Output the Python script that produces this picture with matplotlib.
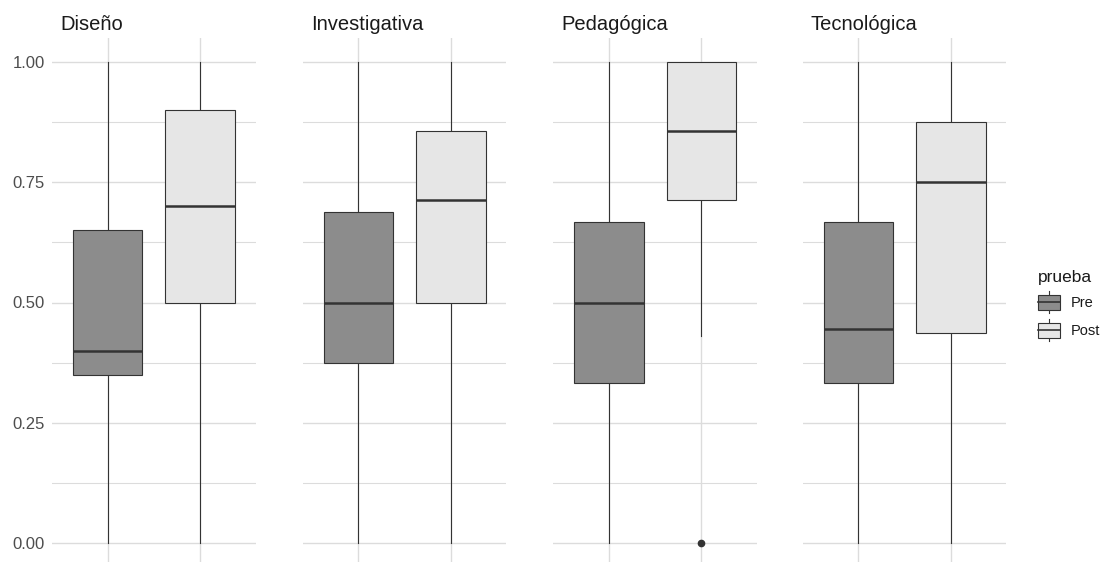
import matplotlib
matplotlib.use("Agg")
import matplotlib.pyplot as plt
from matplotlib.patches import Rectangle
from matplotlib.lines import Line2D
from matplotlib.legend_handler import HandlerBase

plt.rcParams['font.family'] = ['Liberation Sans', 'DejaVu Sans']

# ---- data ----
facets = ["Diseño", "Investigativa", "Pedagógica", "Tecnológica"]
groups = ["Pre", "Post"]
# per facet: [Pre, Post]
whislo = [[0.0, 0.0], [0.0, 0.0], [0.0, 0.43], [0.0, 0.0]]
q1 = [[0.35, 0.50], [0.375, 0.50], [0.333, 0.714], [0.333, 0.4375]]
med = [[0.40, 0.70], [0.50, 0.714], [0.50, 0.857], [0.444, 0.75]]
q3 = [[0.65, 0.90], [0.688, 0.857], [0.667, 1.00], [0.667, 0.875]]
whishi = [[1.0, 1.0], [1.0, 1.0], [1.0, 1.0], [1.0, 1.0]]
fliers = [[[], []], [[], []], [[], [0.0]], [[], []]]
yticks = [0.0, 0.25, 0.5, 0.75, 1.0]
ytick_labels = ["0.00", "0.25", "0.50", "0.75", "1.00"]

fill_colors = {"Pre": "#8c8c8c", "Post": "#e6e6e6"}
edge = "#333333"
grid_c = "#dcdcdc"

W, H = 1105, 562
fig = plt.figure(figsize=(W / 100, H / 100), dpi=100)

panel_lefts = [52, 302.7, 553.3, 802.7]
panel_w = 203.7
top_px, bot_px = 38, 567

for i, name in enumerate(facets):
    ax = fig.add_axes([panel_lefts[i] / W, (H - bot_px) / H,
                       panel_w / W, (bot_px - top_px) / H])
    stats = []
    for j, g in enumerate(groups):
        stats.append(dict(whislo=whislo[i][j], q1=q1[i][j], med=med[i][j],
                          q3=q3[i][j], whishi=whishi[i][j],
                          fliers=fliers[i][j], label=g))
    bp = ax.bxp(stats, positions=[1, 2], widths=0.75, patch_artist=True,
                showcaps=False,
                boxprops=dict(edgecolor=edge, linewidth=0.8),
                whiskerprops=dict(color=edge, linewidth=0.8),
                medianprops=dict(color=edge, linewidth=1.8, solid_capstyle='butt'),
                flierprops=dict(marker='o', markerfacecolor=edge,
                                markeredgecolor=edge, markersize=4.5))
    for patch, g in zip(bp['boxes'], groups):
        patch.set_facecolor(fill_colors[g])
    for w in bp['whiskers']:
        w.set_zorder(1.5)
    ax.set_xlim(0.4, 2.6)
    ax.set_ylim(-0.05, 1.05)
    ax.set_yticks(yticks)
    ax.set_yticks([0.125, 0.375, 0.625, 0.875], minor=True)
    ax.set_xticks([1, 2])
    ax.set_xticklabels([])
    ax.tick_params(axis='both', which='both', length=0)
    if i == 0:
        ax.set_yticklabels(ytick_labels, fontsize=12, color="#4d4d4d")
        ax.tick_params(axis='y', pad=5)
    else:
        ax.set_yticklabels([])
    ax.grid(True, which='major', color=grid_c, linewidth=1.0)
    ax.grid(True, which='minor', axis='y', color=grid_c, linewidth=0.8)
    ax.set_axisbelow(True)
    for s in ax.spines.values():
        s.set_visible(False)
    ax.text(8 / panel_w, 1.0 + (38 - 30) / (bot_px - top_px), name,
            transform=ax.transAxes, ha='left', va='baseline',
            fontsize=14.5, color="#1a1a1a")


class BoxKeyHandler(HandlerBase):
    def __init__(self, face):
        super().__init__()
        self.face = face

    def create_artists(self, legend, orig_handle, xdescent, ydescent,
                       width, height, fontsize, trans):
        x0, y0 = -xdescent, -ydescent
        cx = x0 + width / 2
        bw = width
        bh = height * 0.7
        by = y0 + (height - bh) / 2
        rect = Rectangle((cx - bw / 2, by), bw, bh, facecolor=self.face,
                         edgecolor=edge, linewidth=0.8, transform=trans)
        mline = Line2D([cx - bw / 2, cx + bw / 2], [y0 + height / 2] * 2,
                       color=edge, linewidth=1.2, transform=trans)
        wl = Line2D([cx, cx], [y0, by], color=edge,
                    linewidth=0.8, transform=trans)
        wh = Line2D([cx, cx], [by + bh, y0 + height], color=edge,
                    linewidth=0.8, transform=trans)
        return [wl, wh, rect, mline]


handles = [Rectangle((0, 0), 1, 1, label=g) for g in groups]
hmap = {h: BoxKeyHandler(fill_colors[g]) for h, g in zip(handles, groups)}
leg = fig.legend(handles=handles, labels=groups, handler_map=hmap,
                 title="prueba", loc='upper left',
                 bbox_to_anchor=(1038 / W, 1 - 270 / H),
                 frameon=False, fontsize=10.5, title_fontsize=12.5,
                 handlelength=1.5, handleheight=1.9, handletextpad=0.75,
                 labelspacing=0.44, borderaxespad=0, borderpad=0)
leg._legend_box.align = "left"
leg.get_title().set_color("#1a1a1a")
for t in leg.get_texts():
    t.set_color("#1a1a1a")

fig.savefig("out.png", dpi=100, facecolor="white")
